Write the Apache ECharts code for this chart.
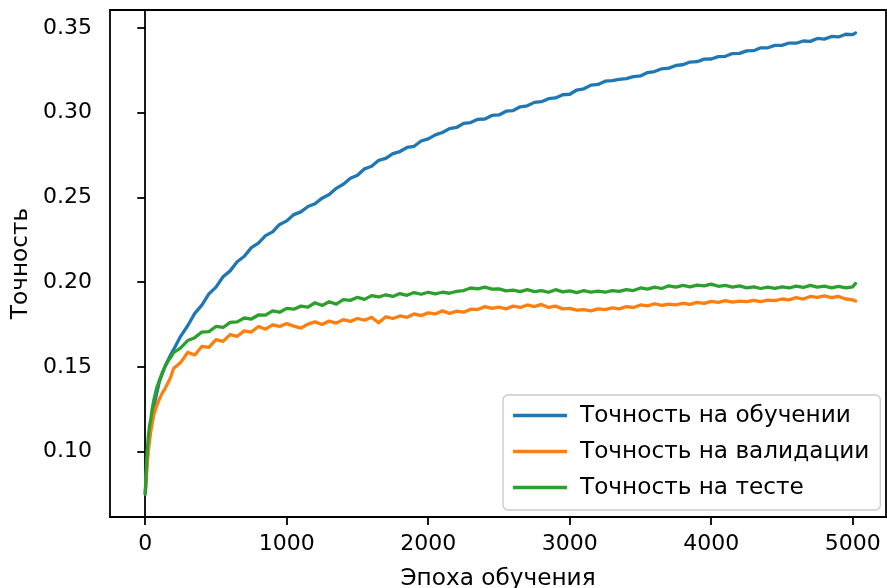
<!DOCTYPE html>
<html>
<head>
<meta charset="utf-8">
<script src="https://cdn.jsdelivr.net/npm/echarts@6/dist/echarts.min.js"></script>
<style>
html,body{margin:0;padding:0;background:#fff;}
#chart{width:887px;height:588px;}
</style>
</head>
<body>
<div id="chart"></div>
<script>
const epochs = [0,10,20,30,40,50,60,80,100,120,140,160,180,
200,250,300,350,400,450,500,550,600,650,700,750,800,850,900,950,
1000,1050,1100,1150,1200,1250,1300,1350,1400,1450,1500,1550,1600,1650,1700,1750,1800,1850,1900,1950,
2000,2050,2100,2150,2200,2250,2300,2350,2400,2450,2500,2550,2600,2650,2700,2750,2800,2850,2900,2950,
3000,3050,3100,3150,3200,3250,3300,3350,3400,3450,3500,3550,3600,3650,3700,3750,3800,3850,3900,3950,
4000,4050,4100,4150,4200,4250,4300,4350,4400,4450,4500,4550,4600,4650,4700,4750,4800,4850,4900,4950,
5000,5020];

const trainAcc = [0.0750,0.0900,0.1015,0.1100,0.1165,0.1215,0.1262,0.1340,0.1412,0.1458,0.1503,0.1538,0.1572,
0.1601,0.1680,0.1742,0.1815,0.1864,0.1930,0.1970,0.2031,0.2066,0.2120,0.2152,0.2203,0.2230,0.2274,0.2296,0.2340,
0.2361,0.2398,0.2414,0.2446,0.2462,0.2495,0.2516,0.2553,0.2577,0.2612,0.2630,0.2668,0.2683,0.2718,0.2730,0.2758,0.2770,0.2794,0.2801,0.2832,
0.2845,0.2868,0.2882,0.2905,0.2912,0.2936,0.2941,0.2960,0.2962,0.2983,0.2986,0.3008,0.3012,0.3034,0.3040,0.3060,0.3064,0.3082,0.3086,0.3105,
0.3108,0.3133,0.3140,0.3162,0.3166,0.3185,0.3188,0.3196,0.3200,0.3212,0.3216,0.3236,0.3242,0.3258,0.3262,0.3278,0.3282,0.3298,0.3300,0.3315,
0.3316,0.3330,0.3332,0.3348,0.3349,0.3364,0.3365,0.3382,0.3382,0.3396,0.3396,0.3410,0.3409,0.3422,0.3420,0.3437,0.3433,0.3449,0.3446,0.3462,
0.3460,0.3470];

const valAcc = [0.0750,0.0880,0.0990,0.1060,0.1125,0.1170,0.1215,0.1268,0.1310,0.1345,0.1372,0.1405,0.1438,
0.1490,0.1525,0.1585,0.1570,0.1620,0.1615,0.1660,0.1650,0.1690,0.1680,0.1712,0.1705,0.1738,0.1722,0.1748,0.1738,
0.1755,0.1740,0.1728,0.1752,0.1765,0.1750,0.1770,0.1758,0.1778,0.1768,0.1785,0.1775,0.1792,0.1760,0.1795,0.1785,0.1800,0.1792,0.1812,0.1802,
0.1818,0.1812,0.1830,0.1815,0.1828,0.1822,0.1840,0.1838,0.1855,0.1845,0.1852,0.1842,0.1858,0.1850,0.1865,0.1855,0.1868,0.1850,0.1858,0.1842,
0.1845,0.1835,0.1838,0.1830,0.1842,0.1838,0.1848,0.1842,0.1855,0.1850,0.1865,0.1860,0.1872,0.1862,0.1870,0.1865,0.1875,0.1868,0.1880,0.1874,
0.1886,0.1880,0.1890,0.1882,0.1888,0.1884,0.1892,0.1885,0.1894,0.1890,0.1900,0.1895,0.1908,0.1900,0.1915,0.1910,0.1918,0.1908,0.1915,0.1900,
0.1895,0.1888];

const testAcc = [0.0750,0.0950,0.1070,0.1150,0.1195,0.1255,0.1300,0.1372,0.1420,0.1465,0.1500,0.1532,0.1556,
0.1583,0.1612,0.1655,0.1672,0.1705,0.1708,0.1738,0.1732,0.1762,0.1765,0.1788,0.1782,0.1806,0.1805,0.1830,0.1822,
0.1845,0.1840,0.1858,0.1852,0.1878,0.1862,0.1884,0.1870,0.1896,0.1892,0.1910,0.1898,0.1920,0.1912,0.1925,0.1915,0.1932,0.1922,0.1938,0.1928,
0.1940,0.1930,0.1940,0.1934,0.1945,0.1950,0.1965,0.1960,0.1970,0.1958,0.1960,0.1948,0.1952,0.1944,0.1955,0.1944,0.1950,0.1940,0.1955,0.1942,
0.1948,0.1938,0.1950,0.1940,0.1947,0.1940,0.1950,0.1945,0.1955,0.1950,0.1965,0.1958,0.1970,0.1962,0.1978,0.1970,0.1980,0.1972,0.1982,0.1978,
0.1988,0.1975,0.1980,0.1970,0.1978,0.1966,0.1972,0.1962,0.1970,0.1963,0.1972,0.1965,0.1976,0.1968,0.1980,0.1970,0.1976,0.1966,0.1974,0.1966,
0.1972,0.1992];

const seriesNames = ['Точность на обучении', 'Точность на валидации', 'Точность на тесте'];
const seriesColors = ['#1f77b4', '#ff7f0e', '#2ca02c'];
const xTicks = [0, 1000, 2000, 3000, 4000, 5000];
const yTicks = [0.10, 0.15, 0.20, 0.25, 0.30, 0.35];
const xTitle = 'Эпоха обучения';
const yTitle = 'Точность';

const FONT = 'DejaVu Sans';
const FS = 22;
const FS_LBL = 23.2;
const allSeries = [trainAcc, valAcc, testAcc];

const chart = echarts.init(document.getElementById('chart'), null, {renderer: 'canvas'});
chart.setOption({
  animation: false,
  backgroundColor: '#ffffff',
  textStyle: {fontFamily: FONT, color: '#000'},
  grid: {left: 110, top: 10, width: 776, height: 507, show: true, borderColor: '#000', borderWidth: 1.8, backgroundColor: 'transparent', containLabel: false, outerBoundsMode: 'none'},
  legend: {
    orient: 'vertical',
    left: 503, top: 395,
    padding: [9, 11, 11, 10],
    itemGap: 13,
    itemWidth: 54, itemHeight: 3.3,
    icon: 'rect',
    borderColor: '#cccccc', borderWidth: 1.4, borderRadius: 5,
    backgroundColor: 'rgba(255,255,255,0.8)',
    textStyle: {fontFamily: FONT, fontSize: FS_LBL, lineHeight: 22, color: '#000', padding: [0, 0, 0, 8]},
    data: seriesNames
  },
  xAxis: {
    type: 'value', min: -249, max: 5235,
    name: xTitle, nameLocation: 'middle', nameGap: 50,
    nameTextStyle: {fontFamily: FONT, fontSize: FS_LBL, color: '#000'},
    axisLine: {show: true, lineStyle: {color: '#000', width: 1.8}},
    axisTick: {show: true, length: 8, inside: false, lineStyle: {color: '#000', width: 1.8}, customValues: xTicks},
    axisLabel: {fontFamily: FONT, fontSize: FS, color: '#000', margin: 16, customValues: xTicks, formatter: v => String(Math.round(v))},
    splitLine: {show: false}
  },
  yAxis: {
    type: 'value', min: 0.0614, max: 0.3605,
    name: yTitle, nameLocation: 'middle', nameGap: 73, nameRotate: 90,
    nameTextStyle: {fontFamily: FONT, fontSize: FS_LBL, color: '#000'},
    axisLine: {show: true, lineStyle: {color: '#000', width: 1.8}},
    axisTick: {show: true, length: 8, inside: false, lineStyle: {color: '#000', width: 1.8}, customValues: yTicks},
    axisLabel: {fontFamily: FONT, fontSize: FS, color: '#000', margin: 18, customValues: yTicks, formatter: v => v.toFixed(2)},
    splitLine: {show: false}
  },
  series: allSeries.map((vals, i) => ({
    name: seriesNames[i],
    type: 'line',
    symbol: 'none',
    showSymbol: false,
    smooth: false,
    itemStyle: {color: seriesColors[i]},
    lineStyle: {color: seriesColors[i], width: 3.3, join: 'round', cap: 'round'},
    data: epochs.map((e, j) => [e, vals[j]])
  }))
});
</script>
</body>
</html>
